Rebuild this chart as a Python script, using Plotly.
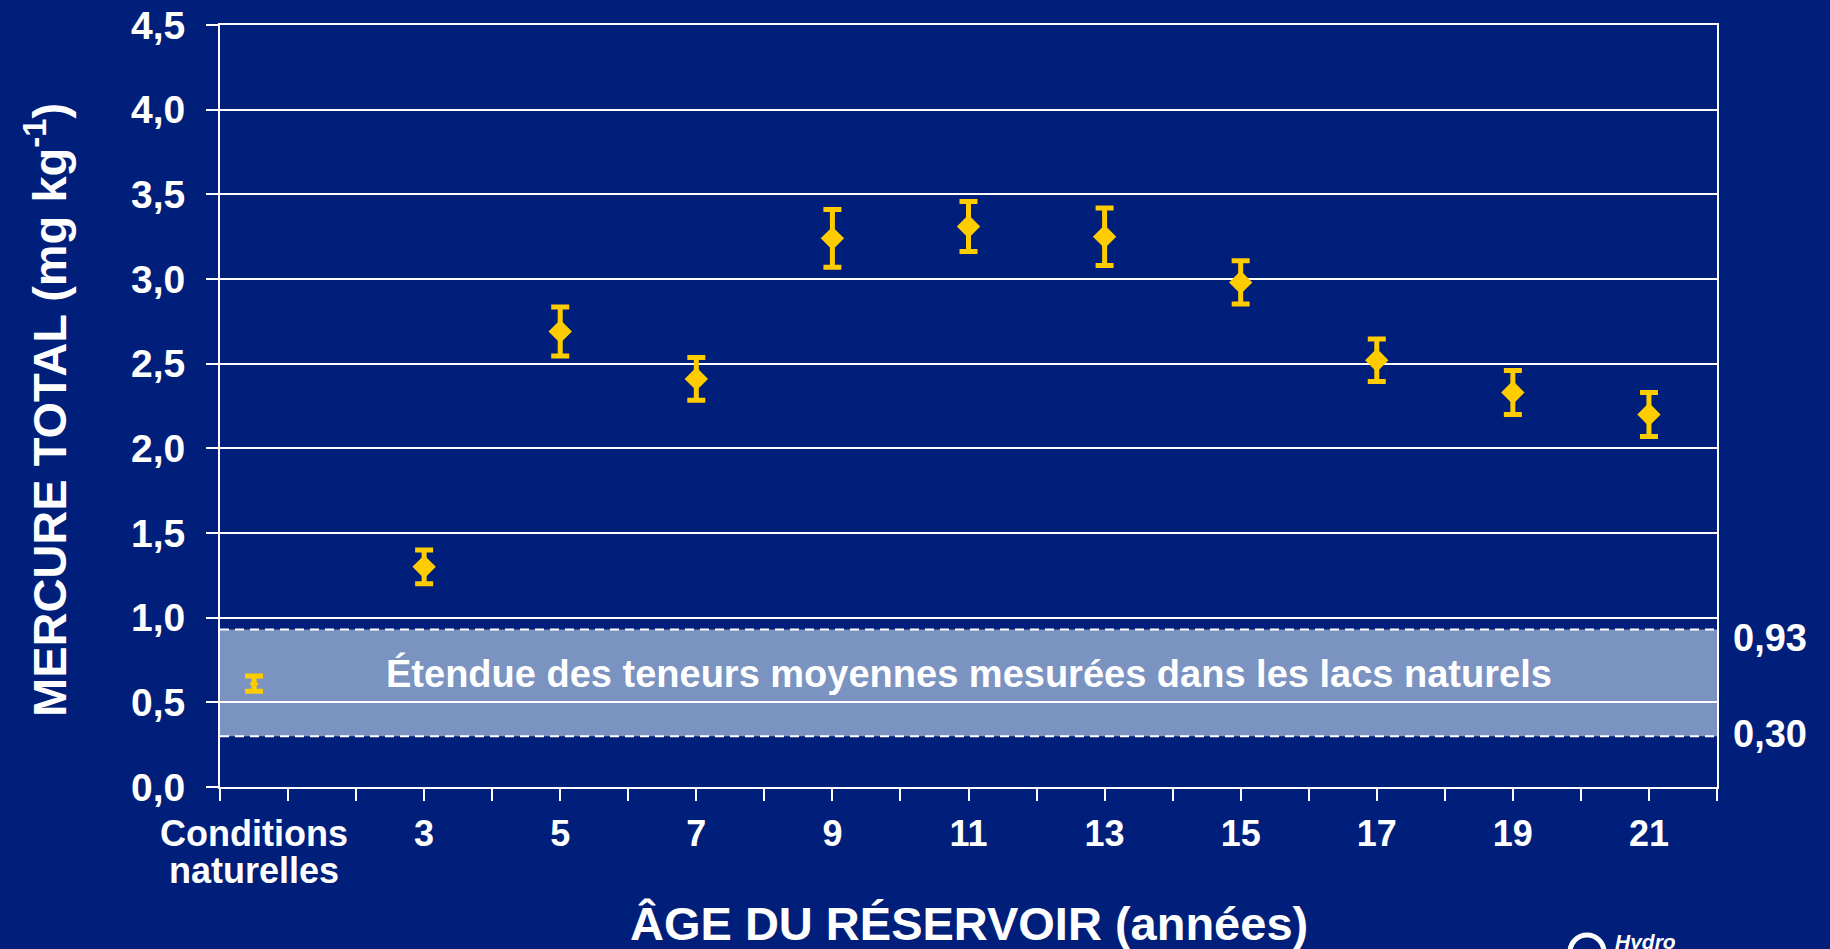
import plotly.graph_objects as go

# Mean total mercury in fish flesh by reservoir age (mg/kg), with error bars
ages = [3, 5, 7, 9, 11, 13, 15, 17, 19, 21]
means = [1.30, 2.69, 2.41, 3.24, 3.31, 3.25, 2.98, 2.52, 2.33, 2.20]
errors = [0.10, 0.145, 0.126, 0.17, 0.148, 0.17, 0.128, 0.125, 0.13, 0.13]

# Natural lakes reference point
natural_x = 0.5
natural_mean = 0.61
natural_err = 0.045
natural_label = ["Conditions", "naturelles"]

# Range of mean concentrations measured in natural lakes
band_low = 0.30
band_high = 0.93
band_text = "Étendue des teneurs moyennes mesurées dans les lacs naturels"

# Axis ticks
x_labels = [3, 5, 7, 9, 11, 13, 15, 17, 19, 21]
y_ticks = [0, 0.5, 1.0, 1.5, 2.0, 2.5, 3.0, 3.5, 4.0, 4.5]

BG = "#001F7A"
GOLD = "#FFCC00"
BAND = "#7A93C0"
FONT = "Liberation Sans"

# plot area in pixels (for placing paper-referenced items)
L, R, T, B = 220, 1717, 25, 787
W, H = R - L, B - T


def px_x(px):
    return (px - L) / W


def px_y(py):
    return (B - py) / H


fig = go.Figure()

fig.add_trace(go.Scatter(
    x=ages, y=means, mode="markers",
    marker=dict(symbol="diamond", size=18, color=GOLD, line=dict(width=0)),
    error_y=dict(type="data", array=errors, visible=True,
                 color=GOLD, thickness=5, width=9),
    showlegend=False, hoverinfo="x+y",
))

fig.add_trace(go.Scatter(
    x=[natural_x], y=[natural_mean], mode="markers",
    marker=dict(symbol="diamond", size=7, color=GOLD, line=dict(width=0)),
    error_y=dict(type="data", array=[natural_err], visible=True,
                 color=GOLD, thickness=5, width=9),
    showlegend=False, hoverinfo="y",
))

# Natural-lake band and its dashed bounds
fig.add_shape(type="rect", xref="x", yref="y", x0=0, x1=22,
              y0=band_low, y1=band_high, fillcolor=BAND,
              line=dict(width=0), layer="below")
for v in (band_low, band_high):
    fig.add_shape(type="line", xref="x", yref="y", x0=0, x1=22, y0=v, y1=v,
                  line=dict(color="white", width=2, dash="9px,6px"), layer="between")

annotations = [
    dict(text=band_text, x=11, y=0.672, xref="x", yref="y",
         xanchor="center", yanchor="middle", showarrow=False,
         font=dict(family=FONT, size=38, color="white", weight="bold")),
    dict(text="MERCURE TOTAL (mg kg<sup>-1</sup>)", x=px_x(46), y=px_y(410),
         xref="paper", yref="paper", xanchor="center", yanchor="middle",
         textangle=-90, showarrow=False,
         font=dict(family=FONT, size=47, color="white", weight="bold")),
    dict(text="ÂGE DU RÉSERVOIR (années)", x=11, y=px_y(895),
         xref="x", yref="paper", xanchor="center", yanchor="top",
         showarrow=False,
         font=dict(family=FONT, size=47, color="white", weight="bold")),
]

for i, line in enumerate(natural_label):
    annotations.append(dict(
        text=line, x=natural_x, y=px_y(811 + 37 * i), xref="x", yref="paper",
        xanchor="center", yanchor="top", showarrow=False,
        font=dict(family=FONT, size=36, color="white", weight="bold")))

for v, shift in ((band_high, -8), (band_low, 2)):
    annotations.append(dict(
        text=f"{v:.2f}".replace(".", ","), x=px_x(1731), y=v, xref="paper", yref="y",
        xanchor="left", yanchor="middle", yshift=shift, showarrow=False,
        font=dict(family=FONT, size=38, color="white", weight="bold")))

# Logo mark in the lower right corner
annotations.append(dict(
    text="<i>Hydro</i>", x=px_x(1613), y=px_y(928), xref="paper", yref="paper",
    xanchor="left", yanchor="top", showarrow=False,
    font=dict(family=FONT, size=21, color="white", weight="bold")))
fig.add_shape(type="circle", xref="paper", yref="paper",
              x0=px_x(1570), x1=px_x(1604), y0=px_y(969), y1=px_y(935),
              line=dict(color="white", width=5), fillcolor="rgba(0,0,0,0)")

fig.update_layout(
    width=1830, height=949,
    margin=dict(l=L, r=1830 - R, t=T, b=949 - B, pad=0),
    paper_bgcolor=BG, plot_bgcolor=BG,
    separators=", ",
    font=dict(family=FONT, color="white"),
    annotations=annotations,
    showlegend=False,
    xaxis=dict(
        range=[0, 22], tickmode="array", tickvals=x_labels,
        ticks="outside", ticklen=12, tickwidth=2, tickcolor="white",
        minor=dict(tick0=0, dtick=1, ticks="outside", ticklen=12,
                   tickwidth=2, tickcolor="white", showgrid=False),
        showgrid=False, zeroline=False, automargin=False,
        showline=True, linecolor="white", linewidth=2, mirror=True,
        tickfont=dict(family=FONT, size=36, color="white", weight="bold"),
        ticklabelstandoff=2,
    ),
    yaxis=dict(
        range=[0, 4.5], tickmode="array", tickvals=y_ticks, tickformat=".1f",
        ticks="outside", ticklen=12, tickwidth=2, tickcolor="white",
        showgrid=True, gridcolor="white", gridwidth=2, zeroline=False,
        automargin=False,
        showline=True, linecolor="white", linewidth=2, mirror=True,
        tickfont=dict(family=FONT, size=39, color="white", weight="bold"),
        ticklabelstandoff=13,
    ),
)

fig.write_html("out.html")
